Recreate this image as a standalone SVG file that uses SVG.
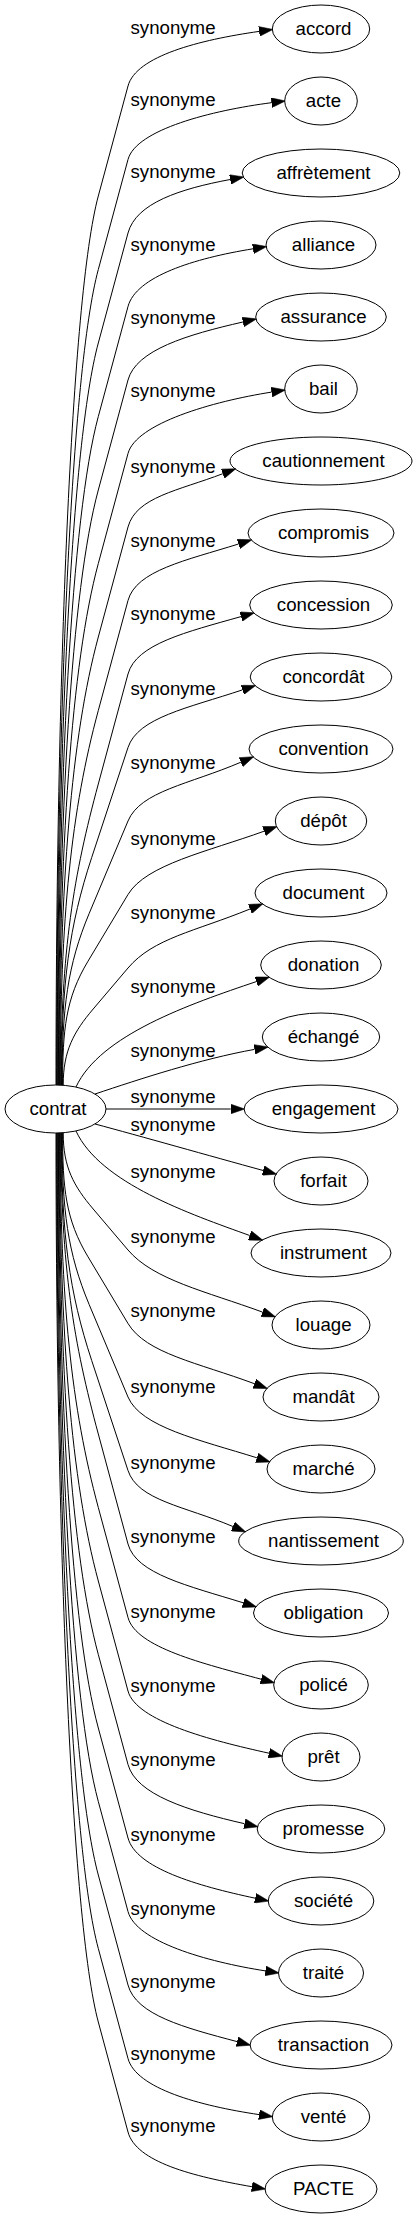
<svg xmlns="http://www.w3.org/2000/svg" width="417" height="2219" viewBox="0 0 417 2219">
<style>
.n ellipse{fill:none;stroke:#000;stroke-width:1}
.n text{font-family:"Liberation Sans",Arial,sans-serif;font-size:18.67px;fill:#000;text-anchor:middle}
.e path{fill:none;stroke:#000;stroke-width:1;marker-end:url(#ah)}
.l text{font-family:"Liberation Sans",Arial,sans-serif;font-size:18.67px;fill:#000;text-anchor:middle}
</style>
<defs>
<marker id="ah" markerUnits="userSpaceOnUse" markerWidth="14" markerHeight="10" viewBox="0 0 13.3 9.3" refX="0" refY="4.65" orient="auto">
<path d="M0,0 L13.3,4.65 L0,9.3 z" fill="#000" stroke="#000" stroke-width="0.5"/>
</marker>
</defs>
<rect width="417" height="2219" fill="#fff"/>
<g id="edges" class="e">
<path d="M56,1085 C56,685 71.3,296 98.3,196 L128,86 C136.1,56 199.7,39.9 259.1,31.4"/>
<path d="M56.6,1085 C56.6,718 71.3,369.5 98.3,269.5 L128,159.5 C136.1,129.5 212,110.4 271.5,102.7"/>
<path d="M57.2,1085 C57.2,751.1 71.3,443 98.3,343 L128,233 C136.1,203 180,188.9 230.2,179.5"/>
<path d="M57.8,1085 C57.8,784.2 71.3,516.5 98.3,416.5 L128,306.5 C136.1,276.5 193.8,258.4 253,248.8"/>
<path d="M58.4,1085 C58.4,817.3 71.3,590 98.3,490 L128,380 C136.1,350 186.8,334.8 242.9,322"/>
<path d="M59,1085 C59,850.3 71.3,663.5 98.3,563.5 L128,453.5 C136.1,423.5 212.3,401.4 271.6,392.1"/>
<path d="M59.6,1085 C59.6,883.4 71.3,737 98.3,637 L128,527 C136.1,497 178.5,490.6 222.8,473.7"/>
<path d="M60.2,1085 C60.2,916.5 71.3,810.5 98.3,710.5 L128,600.5 C136.1,570.5 185.8,560.5 238.5,544"/>
<path d="M60.8,1085 C60.8,949.6 73.9,874.3 98.3,784 L128,674 C136.1,644 186.6,632 241,616.6"/>
<path d="M61.4,1085 C61.4,982.6 69.2,925.8 91.7,857.5 L128,747.5 C137.9,717.5 188.1,708 242.4,689.9"/>
<path d="M62,1085 C62,1007.8 67.6,964.9 89.2,913.4 L128,821 C140.6,791 189.1,784.4 240.9,762.2"/>
<path d="M62.6,1085 C62.6,1029.3 65.7,998.3 88,961.2 L128,894.5 C146,864.5 207.7,851.6 264.1,831.2"/>
<path d="M63.2,1085 C63.2,1050.8 73.8,1031.8 93.2,1009 L128,968 C153.5,938 194.4,931.7 250,909"/>
<path d="M76,1087 C100,1035 190,1004 256.3,981.6"/>
<path d="M95,1094 C140,1079 200.4,1059.1 254.5,1049.4"/>
<path d="M106,1109 L230.7,1109"/>
<path d="M95,1124 C140,1136 210.1,1156 263.2,1170.5"/>
<path d="M76,1131 C100,1183 190,1214 249.7,1235.5"/>
<path d="M63.2,1133 C63.2,1167.2 73.8,1186.2 93.2,1209 L128,1250 C153.5,1280 206.2,1291.4 262.5,1312.1"/>
<path d="M62.6,1133 C62.6,1188.7 65.7,1219.7 88,1256.8 L128,1323.5 C146,1353.5 198.2,1362.8 254.4,1383.7"/>
<path d="M62,1133 C62,1210.2 67.6,1253.1 89.2,1304.6 L128,1397 C140.6,1427 199.6,1439.9 256.9,1457.8"/>
<path d="M61.4,1133 C61.4,1235.4 69.2,1292.2 91.7,1360.5 L128,1470.5 C137.9,1500.5 184.6,1506.1 232.9,1526.5"/>
<path d="M60.8,1133 C60.8,1268.4 73.9,1343.7 98.3,1434 L128,1544 C136.1,1574 188.2,1585.7 243.2,1602.8"/>
<path d="M60.2,1133 C60.2,1301.5 71.3,1407.5 98.3,1507.5 L128,1617.5 C136.1,1647.5 203.2,1663.5 261.1,1679.2"/>
<path d="M59.6,1133 C59.6,1334.6 71.3,1481 98.3,1581 L128,1691 C136.1,1721 210.4,1740.3 269,1753.2"/>
<path d="M59,1133 C59,1367.7 71.3,1554.5 98.3,1654.5 L128,1764.5 C136.1,1794.5 187.7,1810.7 244.5,1823.7"/>
<path d="M58.4,1133 C58.4,1400.7 71.3,1628 98.3,1728 L128,1838 C136.1,1868 196.5,1885.7 255.2,1898.2"/>
<path d="M57.8,1133 C57.8,1433.8 71.3,1701.5 98.3,1801.5 L128,1911.5 C136.1,1941.5 206.1,1961.6 265.4,1970.9"/>
<path d="M57.2,1133 C57.2,1466.9 71.3,1775 98.3,1875 L128,1985 C136.1,2015 184.3,2027.6 237.1,2041.6"/>
<path d="M56.6,1133 C56.6,1500 71.3,1848.5 98.3,1948.5 L128,2058.5 C136.1,2088.5 199.8,2105.8 259.1,2114.6"/>
<path d="M56,1133 C56,1533 71.3,1922 98.3,2022 L128,2132 C136.1,2162 192.8,2176.4 251.9,2186.7"/>
</g>
<g id="labels" class="l">
<text x="173" y="33.7">synonyme</text>
<text x="173" y="106">synonyme</text>
<text x="173" y="178.3">synonyme</text>
<text x="173" y="251">synonyme</text>
<text x="173" y="324.3">synonyme</text>
<text x="173" y="397">synonyme</text>
<text x="173" y="472.7">synonyme</text>
<text x="173" y="547.3">synonyme</text>
<text x="173" y="620">synonyme</text>
<text x="173" y="695">synonyme</text>
<text x="173" y="769.3">synonyme</text>
<text x="173" y="845">synonyme</text>
<text x="173" y="919.3">synonyme</text>
<text x="173" y="992.7">synonyme</text>
<text x="173" y="1056.7">synonyme</text>
<text x="173" y="1103.3">synonyme</text>
<text x="173" y="1131">synonyme</text>
<text x="173" y="1178.3">synonyme</text>
<text x="173" y="1243.3">synonyme</text>
<text x="173" y="1316.7">synonyme</text>
<text x="173" y="1392.7">synonyme</text>
<text x="173" y="1469.3">synonyme</text>
<text x="173" y="1543.3">synonyme</text>
<text x="173" y="1618.3">synonyme</text>
<text x="173" y="1692">synonyme</text>
<text x="173" y="1766">synonyme</text>
<text x="173" y="1840.7">synonyme</text>
<text x="173" y="1915">synonyme</text>
<text x="173" y="1987.7">synonyme</text>
<text x="173" y="2060">synonyme</text>
<text x="173" y="2131.7">synonyme</text>
</g>
<g id="contrat" class="n"><ellipse cx="55.5" cy="1109" rx="50.5" ry="24"/><text x="58" y="1115">contrat</text></g>
<g id="n0" class="n"><ellipse cx="321" cy="29" rx="48.7" ry="24"/><text x="323.5" y="35">accord</text></g>
<g id="n1" class="n"><ellipse cx="321" cy="101" rx="36.3" ry="24"/><text x="323.5" y="107">acte</text></g>
<g id="n2" class="n"><ellipse cx="321" cy="173" rx="78.8" ry="24"/><text x="323.5" y="179">affrètement</text></g>
<g id="n3" class="n"><ellipse cx="321" cy="245" rx="55" ry="24"/><text x="323.5" y="251">alliance</text></g>
<g id="n4" class="n"><ellipse cx="321" cy="317" rx="65.3" ry="24"/><text x="323.5" y="323">assurance</text></g>
<g id="n5" class="n"><ellipse cx="321" cy="389" rx="36.3" ry="24"/><text x="323.5" y="395">bail</text></g>
<g id="n6" class="n"><ellipse cx="321" cy="461" rx="91" ry="24"/><text x="323.5" y="467">cautionnement</text></g>
<g id="n7" class="n"><ellipse cx="321" cy="533" rx="73" ry="24"/><text x="323.5" y="539">compromis</text></g>
<g id="n8" class="n"><ellipse cx="321" cy="605" rx="71.3" ry="24"/><text x="323.5" y="611">concession</text></g>
<g id="n9" class="n"><ellipse cx="321" cy="677" rx="70.8" ry="24"/><text x="323.5" y="683">concordât</text></g>
<g id="n10" class="n"><ellipse cx="321" cy="749" rx="72" ry="24"/><text x="323.5" y="755">convention</text></g>
<g id="n11" class="n"><ellipse cx="321" cy="821" rx="45.7" ry="24"/><text x="323.5" y="827">dépôt</text></g>
<g id="n12" class="n"><ellipse cx="321" cy="893" rx="66" ry="24"/><text x="323.5" y="899">document</text></g>
<g id="n13" class="n"><ellipse cx="321" cy="965" rx="60.3" ry="24"/><text x="323.5" y="971">donation</text></g>
<g id="n14" class="n"><ellipse cx="321" cy="1037" rx="58.7" ry="24"/><text x="323.5" y="1043">échangé</text></g>
<g id="n15" class="n"><ellipse cx="321" cy="1109" rx="77" ry="24"/><text x="323.5" y="1115">engagement</text></g>
<g id="n16" class="n"><ellipse cx="321" cy="1181" rx="47" ry="24"/><text x="323.5" y="1187">forfait</text></g>
<g id="n17" class="n"><ellipse cx="321" cy="1253" rx="70" ry="24"/><text x="323.5" y="1259">instrument</text></g>
<g id="n18" class="n"><ellipse cx="321" cy="1325" rx="49" ry="24"/><text x="323.5" y="1331">louage</text></g>
<g id="n19" class="n"><ellipse cx="321" cy="1397" rx="58" ry="24"/><text x="323.5" y="1403">mandât</text></g>
<g id="n20" class="n"><ellipse cx="321" cy="1469" rx="54" ry="24"/><text x="323.5" y="1475">marché</text></g>
<g id="n21" class="n"><ellipse cx="321" cy="1541" rx="82.3" ry="24"/><text x="323.5" y="1547">nantissement</text></g>
<g id="n22" class="n"><ellipse cx="321" cy="1613" rx="67.5" ry="24"/><text x="323.5" y="1619">obligation</text></g>
<g id="n23" class="n"><ellipse cx="321" cy="1685" rx="47.3" ry="24"/><text x="323.5" y="1691">policé</text></g>
<g id="n24" class="n"><ellipse cx="321" cy="1757" rx="39" ry="24"/><text x="323.5" y="1763">prêt</text></g>
<g id="n25" class="n"><ellipse cx="321" cy="1829" rx="63.8" ry="24"/><text x="323.5" y="1835">promesse</text></g>
<g id="n26" class="n"><ellipse cx="321" cy="1901" rx="52.8" ry="24"/><text x="323.5" y="1907">société</text></g>
<g id="n27" class="n"><ellipse cx="321" cy="1973" rx="42.5" ry="24"/><text x="323.5" y="1979">traité</text></g>
<g id="n28" class="n"><ellipse cx="321" cy="2045" rx="71" ry="24"/><text x="323.5" y="2051">transaction</text></g>
<g id="n29" class="n"><ellipse cx="321" cy="2117" rx="48.7" ry="24"/><text x="323.5" y="2123">venté</text></g>
<g id="n30" class="n"><ellipse cx="321" cy="2189" rx="56" ry="24"/><text x="323.5" y="2195">PACTE</text></g>
</svg>
